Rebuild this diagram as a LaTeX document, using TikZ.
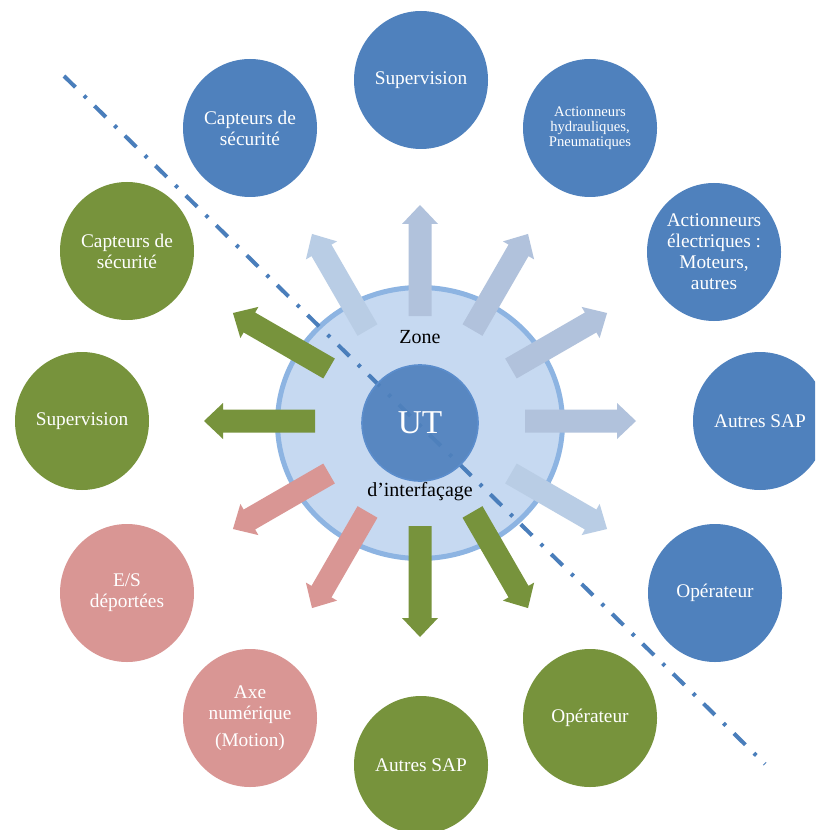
\documentclass[tikz,border=0pt]{standalone}
\usepackage{fontspec}
\setmainfont{Liberation Serif}
\usetikzlibrary{shapes.geometric}
\definecolor{cblue}{HTML}{4F81BD}
\definecolor{cgreen}{HTML}{77933C}
\definecolor{cpink}{HTML}{D99694}
\definecolor{zonefill}{HTML}{C6D9F1}
\definecolor{zoneline}{HTML}{8DB4E2}
\definecolor{arrA}{HTML}{B9CDE5}
\definecolor{arrB}{HTML}{B1C2DC}
\definecolor{dashcol}{HTML}{4A7EBB}
\definecolor{utline}{HTML}{5B8DCC}
\begin{document}
\begin{tikzpicture}[x=0.75pt,y=-0.75pt,
  outer/.style={ellipse, inner sep=0pt, minimum width=100.5pt, minimum height=103.5pt,
    text=white, align=center, font=\fontsize{14.5}{15.75}\selectfont},
  bluec/.style={outer, fill=cblue},
  greenc/.style={outer, fill=cgreen},
  pinkc/.style={outer, fill=cpink},
  zonelabel/.style={font=\fontsize{15}{17}\selectfont, text=black, inner sep=0pt},
  sepline/.style={dashcol, line width=3pt, line cap=butt,
    dash pattern=on 12pt off 9pt on 2.5pt off 8.5pt},
  blockarrow/.pic={\path[pic actions] (105,-11.5) -- (197,-11.5) -- (197,-18) -- (216,0)
      -- (197,18) -- (197,11.5) -- (105,11.5) -- cycle;}
]
\clip (0,0) rectangle (815,830);
\fill[white] (0,0) rectangle (815,830);

% central zone
\node[ellipse, draw=zoneline, line width=3.75pt, fill=zonefill, inner sep=0pt,
  minimum width=213.75pt, minimum height=203.25pt] (zone) at (420,423) {};
\coordinate (c) at (420,421);

% radiating block arrows
\pic[rotate=90,  fill=arrB]   at (c) {blockarrow};
\pic[rotate=60,  fill=arrB]   at (c) {blockarrow};
\pic[rotate=30,  fill=arrB]   at (c) {blockarrow};
\pic[rotate=0,   fill=arrB]   at (c) {blockarrow};
\pic[rotate=-30, fill=arrA]   at (c) {blockarrow};
\pic[rotate=120, fill=arrA]   at (c) {blockarrow};
\pic[rotate=150, fill=cgreen] at (c) {blockarrow};
\pic[rotate=180, fill=cgreen] at (c) {blockarrow};
\pic[rotate=-60, fill=cgreen] at (c) {blockarrow};
\pic[rotate=-90, fill=cgreen] at (c) {blockarrow};
\pic[rotate=-120,fill=cpink]  at (c) {blockarrow};
\pic[rotate=-150,fill=cpink]  at (c) {blockarrow};

% separating dash-dot line
\coordinate (ls) at (64,76);
\coordinate (le) at (765,764);
\draw[sepline] (ls) -- (le);

% UT
\node[circle, fill=cblue, draw=utline, line width=1.2pt, fill opacity=0.92, text opacity=1,
  minimum size=87pt, inner sep=0pt, text=white, font=\fontsize{25}{27}\selectfont] (ut) at (420,423) {UT};
\node[zonelabel] (zt) at (420,337) {Zone};
\node[zonelabel] (zb) at (420,492) {d’interfaçage};

% outer circles
\node[bluec] (bSup)  at (421,80)  {Supervision};
\node[bluec] (bCap)  at (250,128) {Capteurs de\\sécurité};
\node[bluec, font=\fontsize{11}{11.4}\selectfont] (bHyd) at (590,128) {Actionneurs\\hydrauliques,\\Pneumatiques};
\node[bluec] (bElec) at (714,252) {Actionneurs\\électriques :\\Moteurs,\\autres};
\node[bluec] (bSAP)  at (760,421) {Autres SAP};
\node[bluec] (bOp)   at (715,593) {Opérateur};
\node[greenc] (gOp)  at (590,718) {Opérateur};
\node[greenc] (gSAP) at (421,765) {Autres SAP};
\node[pinkc] (pAxe)  at (250,718) {Axe\\numérique\\[4pt](Motion)};
\node[pinkc] (pES)   at (127,593) {E/S\\déportées};
\node[greenc] (gSup) at (82,421)  {Supervision};
\node[greenc] (gCap) at (127,251) {Capteurs de\\sécurité};
\end{tikzpicture}
\end{document}
